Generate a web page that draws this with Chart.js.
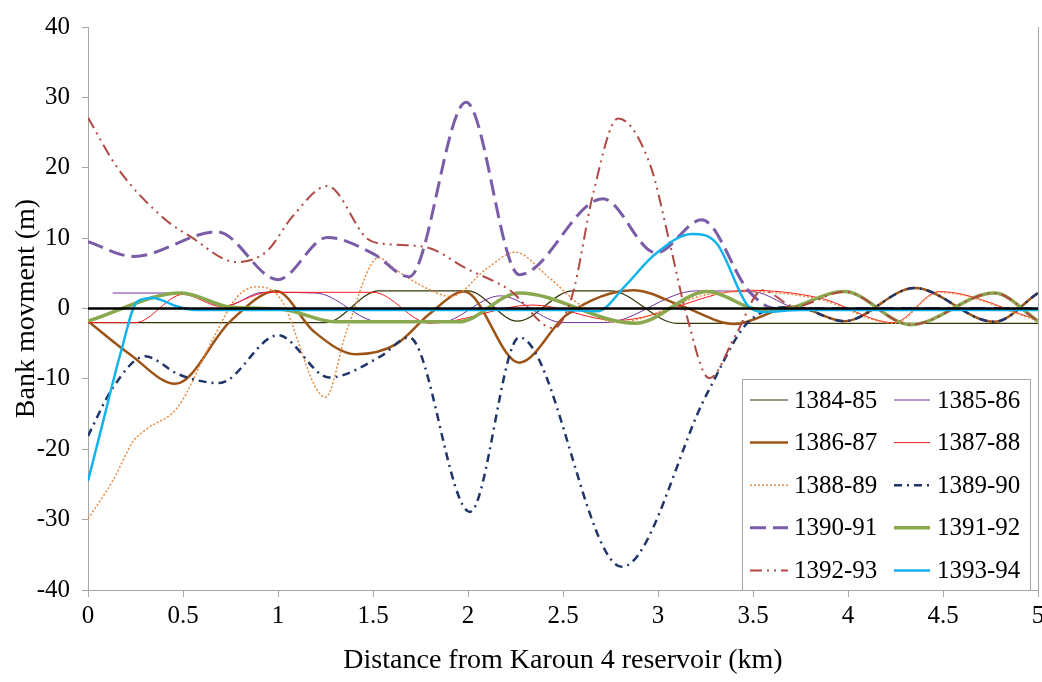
<!DOCTYPE html>
<html>
<head>
<meta charset="utf-8">
<script src="https://cdn.jsdelivr.net/npm/chart.js@4.4.1/dist/chart.umd.min.js"></script>
<style>
  body { margin: 0; background: #fff; }
  canvas { display: block; }
</style>
</head>
<body>
<canvas id="bank" width="1042" height="682"></canvas>
<script>
// periods (legend labels)
const years = ["1384-85", "1385-86", "1386-87", "1387-88", "1388-89",
               "1389-90", "1390-91", "1391-92", "1392-93", "1393-94"];

// distance (km) / bank movement (m)
const km8485 = [0, 1.25, 1.53, 2.0, 2.26, 2.55, 2.75, 3.1, 5];
const m8485  = [-2, -2, 2.5, 2.5, -1.8, 2.5, 2.5, -2.1, -2.1];

const km8586 = [0.13, 0.5, 0.72, 0.92, 1.2, 1.53, 1.85, 2.17, 2.5, 2.72, 3.2, 3.5, 3.75, 5];
const m8586  = [2.2, 2.2, 0.3, 2.3, 2.2, -1.9, -2, 1.8, -2, -2, 2.5, 2.4, 0, 0];

const km8687 = [0, 0.22, 0.46, 0.75, 0.99, 1.19, 1.41, 1.62, 1.8, 1.98, 2.27, 2.52, 2.87, 3.13, 3.4, 3.72, 3.98, 4.35, 4.77, 5];
const m8687  = [-1.8, -6.5, -10.7, -1.8, 2.5, -3.3, -6.5, -5.1, -0.7, 2.4, -7.7, -0.9, 2.6, 0.3, -2.2, 0.3, -1.8, 2.9, -1.9, 2.2];

const km8788 = [0, 0.25, 0.5, 0.7, 0.95, 1.5, 1.8, 2.34, 2.78, 3.47, 3.85, 4.24, 4.48, 5];
const m8788  = [-2, -2, 2, 0.3, 2.3, 2.3, -2.1, 0.5, -1.7, 2.6, 1.5, -2, 2.4, -1.6];

const km8889 = [0, 0.13, 0.24, 0.31, 0.47, 0.66, 0.78, 0.89, 1.01, 1.25, 1.36, 1.53, 1.62, 1.78, 1.91, 2.1, 2.25, 2.41, 2.6, 2.78, 3.26, 3.5, 3.85, 4.24, 4.48, 5];
const m8889  = [-29.9, -24.5, -18.8, -17.1, -14.1, -4.2, 1.5, 3.1, 1.5, -12.6, -3.3, 7.2, 5.5, 2.9, 1.7, 5.7, 8.0, 4.8, 0.3, -2.0, 2.0, 2.4, 1.3, -2.1, 2.3, -1.7];

const km8990 = [0, 0.13, 0.3, 0.48, 0.69, 1.0, 1.27, 1.54, 1.69, 2.01, 2.27, 2.81, 3.26, 3.48, 3.72, 3.98, 4.35, 4.77, 5];
const m8990  = [-18.1, -11.3, -6.8, -9.4, -10.6, -3.8, -9.8, -6.8, -4.1, -28.9, -4.1, -36.7, -12, -1.8, 0.2, -1.8, 2.9, -1.9, 2.2];

const km9091 = [0, 0.24, 0.68, 1.0, 1.26, 1.5, 1.69, 1.99, 2.27, 2.71, 2.99, 3.23, 3.48, 3.62, 5];
const m9091  = [9.5, 7.4, 10.9, 4.1, 10.1, 7.8, 4.5, 29.3, 4.8, 15.6, 7.9, 12.6, 2.4, 0, 0];

const km9192 = [0, 0.49, 0.75, 1.02, 1.3, 1.95, 2.27, 2.88, 3.26, 3.5, 3.62, 3.98, 4.33, 4.77, 5];
const m9192  = [-1.8, 2.2, 0.2, -0.1, -1.9, -1.9, 2.2, -2.1, 2.4, 0, -0.3, 2.4, -2.3, 2.2, -1.8];

const km9293 = [0, 0.16, 0.4, 0.54, 0.78, 0.94, 1.08, 1.26, 1.47, 1.55, 1.78, 1.99, 2.22, 2.45, 2.55, 2.66, 2.79, 2.96, 3.06, 3.15, 3.27, 3.41, 3.55, 3.72, 3.98, 4.33, 4.77, 5];
const m9293  = [27.1, 19.8, 12.8, 10.2, 6.6, 8.1, 13.2, 17.4, 9.9, 9.2, 8.7, 5.7, 2.6, -2.8, 2.0, 16.5, 27, 20.3, 9.5, -0.9, -9.9, -3.7, 2.6, 0.3, 2.4, -2.3, 2.2, -1.8];

const km9394 = [0, 0.08, 0.17, 0.26, 0.34, 0.47, 0.56, 2.5, 2.68, 2.83, 2.98, 3.18, 3.31, 3.47, 3.55, 3.75, 5];
const m9394  = [-24.5, -16, -6.5, 1.0, 1.5, 0.3, -0.2, -0.2, -0.4, 3.3, 7.6, 10.6, 9.2, 0.5, -0.5, -0.2, -0.2];

// axis ticks
const xTicks = [0, 0.5, 1, 1.5, 2, 2.5, 3, 3.5, 4, 4.5, 5];
const yTicks = [-40, -30, -20, -10, 0, 10, 20, 30, 40];

const serif = "'Liberation Serif', 'Times New Roman', serif";

function pts(km, m) {
  return km.map((x, i) => ({ x: x, y: m[i] }));
}

const styles = [
  { c: "#333308", w: 1.2, d: [] },
  { c: "#7030a0", w: 1,   d: [] },
  { c: "#9c5416", w: 2.5, d: [] },
  { c: "#ff1a1a", w: 1,   d: [] },
  { c: "#e8893e", w: 1.5, d: [2, 2] },
  { c: "#1f3468", w: 2.5, d: [8, 5, 2, 5] },
  { c: "#7a5ca8", w: 3,   d: [16, 7] },
  { c: "#8aa94f", w: 3.5, d: [] },
  { c: "#b04844", w: 2,   d: [12, 5, 2, 5, 2, 5] },
  { c: "#12b3ec", w: 2.5, d: [] },
];
const series = [
  pts(km8485, m8485), pts(km8586, m8586), pts(km8687, m8687), pts(km8788, m8788),
  pts(km8889, m8889), pts(km8990, m8990), pts(km9091, m9091), pts(km9192, m9192),
  pts(km9293, m9293), pts(km9394, m9394),
];

// later periods drawn over earlier ones, zero line on top
const datasets = years.map((y, i) => ({
  label: y,
  data: series[i],
  borderColor: styles[i].c,
  borderWidth: styles[i].w,
  borderDash: styles[i].d,
  order: 20 - i,
}));
datasets.push({
  label: "zero",
  data: [{ x: 0, y: 0 }, { x: 5, y: 0 }],
  borderColor: "#000",
  borderWidth: 2.5,
  order: 0,
});

// legend drawn as a boxed 2-column table inside the plot (like the figure)
const boxLegend = {
  id: "boxLegend",
  afterDatasetsDraw(chart) {
    const ctx = chart.ctx;
    const area = chart.chartArea;
    const left = 742, top = 379, w = 288, h = area.bottom - 379;
    ctx.save();
    // right frame line of the plot
    ctx.strokeStyle = "#a6a6a6";
    ctx.lineWidth = 1;
    ctx.beginPath();
    ctx.moveTo(area.right + 0.5, area.top);
    ctx.lineTo(area.right + 0.5, area.bottom);
    ctx.stroke();

    ctx.fillStyle = "#fff";
    ctx.fillRect(left, top, w, h);
    ctx.strokeRect(left + 0.5, top + 0.5, w, h);
    ctx.font = "25px " + serif;
    ctx.textBaseline = "middle";
    ctx.fillStyle = "#000";
    years.forEach((y, i) => {
      const col = i % 2, row = Math.floor(i / 2);
      const cy = 400 + row * 42.6;
      const x0 = col ? 894 : 750, x1 = col ? 930 : 788;
      ctx.beginPath();
      ctx.strokeStyle = styles[i].c;
      ctx.lineWidth = styles[i].w;
      ctx.setLineDash(styles[i].d);
      ctx.moveTo(x0, cy);
      ctx.lineTo(x1, cy);
      ctx.stroke();
      ctx.setLineDash([]);
      ctx.fillText(y, col ? 937 : 794, cy + 1);
    });
    ctx.restore();
  }
};

new Chart(document.getElementById("bank"), {
  type: "line",
  data: { datasets: datasets },
  options: {
    responsive: false,
    animation: false,
    devicePixelRatio: 1,
    layout: { padding: { left: 0, top: 24, right: 4, bottom: 0 } },
    elements: {
      point: { radius: 0 },
      line: { tension: 0.4, cubicInterpolationMode: "monotone", fill: false },
    },
    plugins: {
      legend: { display: false },
      tooltip: { enabled: false },
    },
    scales: {
      x: {
        type: "linear",
        min: 0, max: 5,
        afterBuildTicks: (s) => { s.ticks = xTicks.map(v => ({ value: v })); },
        afterFit: (s) => { s.height = 92; s.paddingLeft = 0; s.paddingRight = 0; },
        grid: { drawOnChartArea: false, color: "#a6a6a6", tickLength: 7 },
        border: { color: "#a6a6a6" },
        ticks: {
          color: "#000", font: { family: serif, size: 25 }, padding: 4,
          maxRotation: 0,
          callback: (v) => String(v),
        },
        title: {
          display: true, text: "Distance from Karoun 4 reservoir (km)",
          color: "#000", font: { family: serif, size: 28 },
          padding: { top: 0, bottom: 5 },
        },
      },
      y: {
        min: -40, max: 40,
        afterBuildTicks: (s) => { s.ticks = yTicks.map(v => ({ value: v })); },
        afterFit: (s) => { s.width = 88; },
        grid: { drawOnChartArea: false, color: "#a6a6a6", tickLength: 6 },
        border: { color: "#a6a6a6" },
        ticks: { color: "#000", font: { family: serif, size: 25 }, padding: 12 },
        title: {
          display: true, text: "Bank movment (m)",
          color: "#000", font: { family: serif, size: 28 },
          padding: { top: 10, bottom: 0 },
        },
      },
    },
  },
  plugins: [boxLegend],
});
</script>
</body>
</html>
